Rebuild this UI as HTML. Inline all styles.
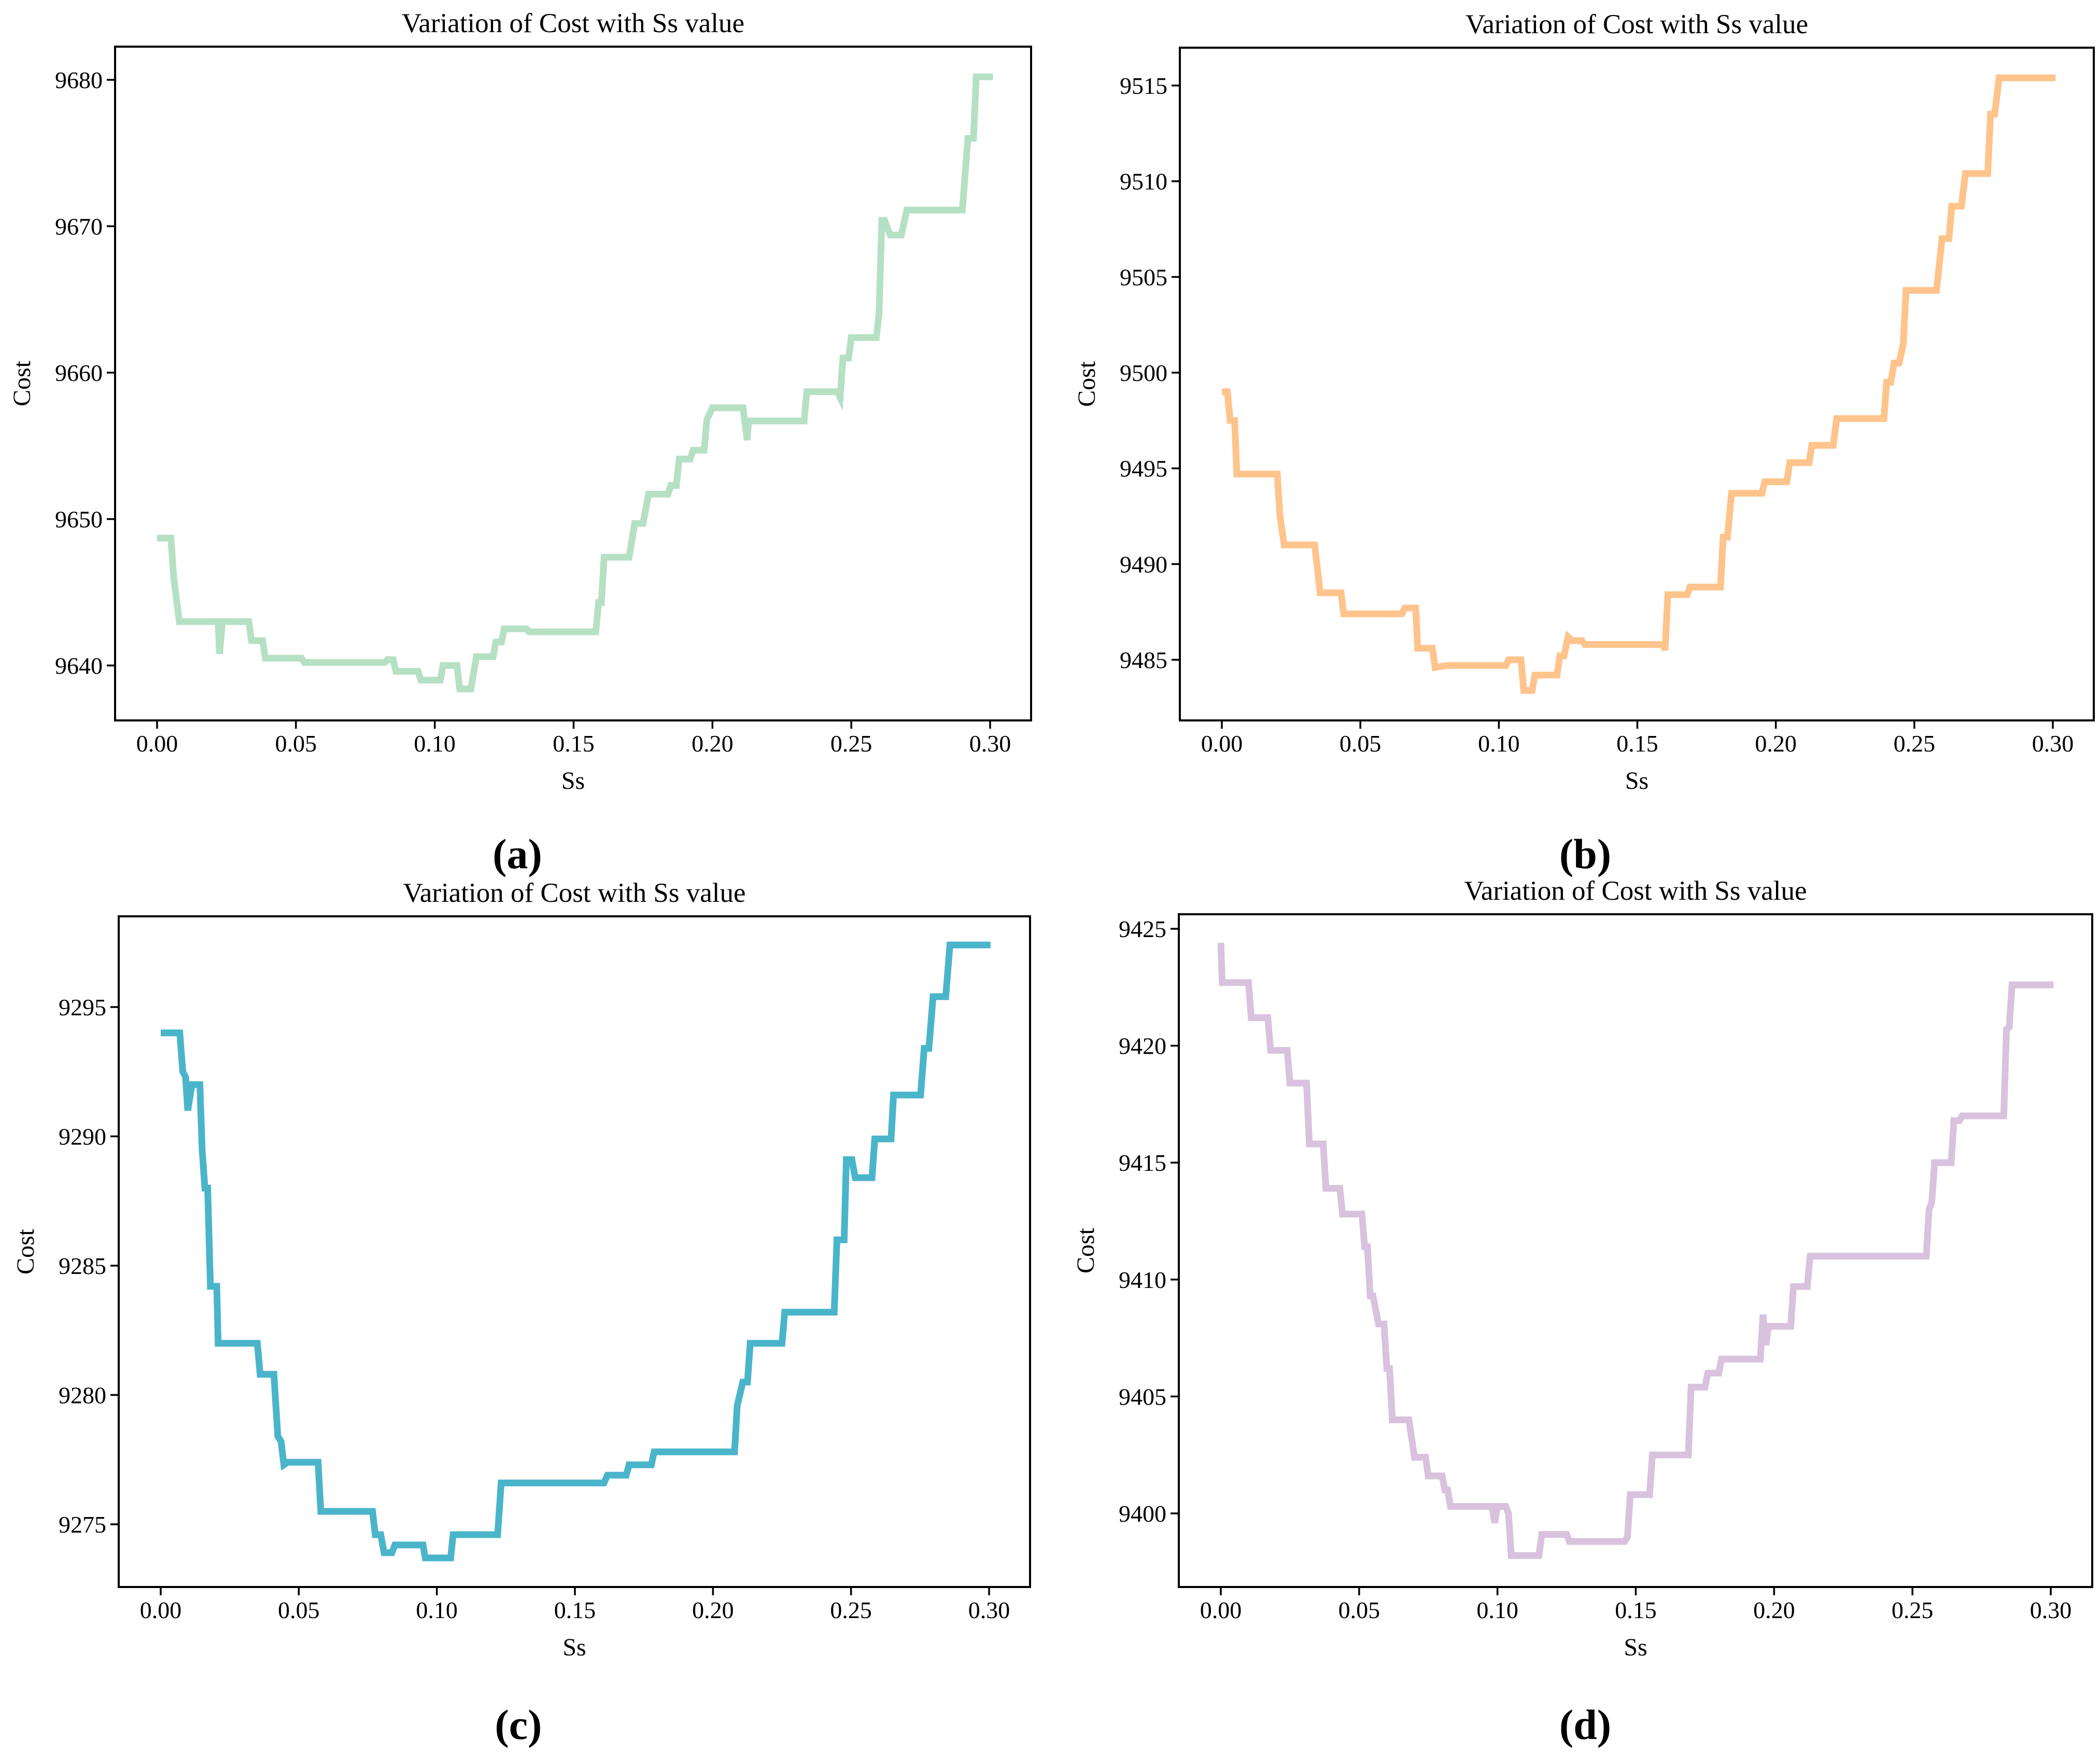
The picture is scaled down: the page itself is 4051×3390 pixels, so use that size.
<!DOCTYPE html>
<html><head><meta charset="utf-8">
<style>
html,body{margin:0;padding:0;background:#fff;}
svg{display:block;}
text{font-family:"Liberation Serif",serif;fill:#000;}
</style></head>
<body>
<svg id="fig" width="4051" height="3390" viewBox="0 0 4051 3390" xmlns="http://www.w3.org/2000/svg"></svg>
<script>
const xTicks = [0, 0.05, 0.10, 0.15, 0.20, 0.25, 0.30];
const xTickLabels = ["0.00","0.05","0.10","0.15","0.20","0.25","0.30"];

const ssA = [0,0.005,0.006,0.008,0.022,0.0225,0.0235,0.024,0.033,0.034,0.038,0.039,0.052,0.053,0.082,0.083,0.085,0.086,0.094,0.095,0.102,0.103,0.108,0.109,0.113,0.115,0.121,0.122,0.124,0.125,0.133,0.134,0.158,0.159,0.160,0.161,0.170,0.172,0.175,0.177,0.184,0.185,0.187,0.188,0.192,0.193,0.197,0.198,0.200,0.211,0.2125,0.213,0.233,0.234,0.245,0.246,0.247,0.249,0.250,0.259,0.260,0.261,0.262,0.264,0.268,0.270,0.290,0.292,0.294,0.295,0.301];
const costA = [9648.7,9648.7,9646,9643,9643,9640.8,9643,9643,9643,9641.7,9641.7,9640.5,9640.5,9640.2,9640.2,9640.4,9640.4,9639.6,9639.6,9639,9639,9640,9640,9638.4,9638.4,9640.6,9640.6,9641.6,9641.6,9642.5,9642.5,9642.3,9642.3,9644.3,9644.3,9647.4,9647.4,9649.7,9649.7,9651.7,9651.7,9652.3,9652.3,9654.1,9654.1,9654.7,9654.7,9656.8,9657.6,9657.6,9655.4,9656.7,9656.7,9658.7,9658.7,9658.3,9661,9661,9662.4,9662.4,9664,9670.4,9670.4,9669.4,9669.4,9671.1,9671.1,9676,9676,9680.2,9680.2];
const yTicksA = [9640,9650,9660,9670,9680];

const ssB = [0,0.002,0.003,0.0046,0.0054,0.020,0.021,0.0225,0.0335,0.0355,0.043,0.044,0.065,0.066,0.070,0.0707,0.076,0.077,0.081,0.1025,0.1035,0.108,0.109,0.112,0.113,0.121,0.122,0.1235,0.125,0.1265,0.130,0.131,0.1595,0.160,0.161,0.168,0.169,0.180,0.181,0.1825,0.184,0.195,0.196,0.204,0.205,0.212,0.213,0.2207,0.222,0.239,0.240,0.2415,0.2427,0.2445,0.246,0.247,0.258,0.260,0.2625,0.2635,0.267,0.2684,0.2765,0.2775,0.279,0.2806,0.301];
const costB = [9499,9499,9497.5,9497.5,9494.7,9494.7,9492.5,9491,9491,9488.5,9488.5,9487.4,9487.4,9487.7,9487.7,9485.6,9485.6,9484.6,9484.7,9484.7,9485,9485,9483.4,9483.4,9484.2,9484.2,9485.2,9485.2,9486.2,9486,9486,9485.8,9485.8,9485.5,9488.4,9488.4,9488.8,9488.8,9491.4,9491.4,9493.7,9493.7,9494.3,9494.3,9495.3,9495.3,9496.2,9496.2,9497.6,9497.6,9499.5,9499.5,9500.5,9500.5,9501.5,9504.3,9504.3,9507,9507,9508.7,9508.7,9510.4,9510.4,9513.5,9513.5,9515.4,9515.4];
const yTicksB = [9485,9490,9495,9500,9505,9510,9515];

const ssC = [0,0.0069,0.008,0.009,0.0098,0.0113,0.0142,0.015,0.016,0.017,0.018,0.0203,0.0208,0.035,0.036,0.041,0.0424,0.0436,0.0446,0.046,0.057,0.058,0.0767,0.0777,0.0797,0.0809,0.0837,0.0848,0.095,0.0958,0.105,0.1059,0.122,0.1233,0.1605,0.1618,0.1686,0.1696,0.1777,0.1787,0.2078,0.2088,0.2108,0.2125,0.2135,0.225,0.226,0.2439,0.2449,0.2475,0.2483,0.2503,0.2515,0.2576,0.2586,0.2645,0.2654,0.2752,0.2765,0.2782,0.2797,0.2843,0.2858,0.3005];
const costC = [9294,9294,9292.5,9292.3,9291,9292,9292,9289.5,9288,9288,9284.2,9284.2,9282,9282,9280.8,9280.8,9278.4,9278.2,9277.3,9277.4,9277.4,9275.5,9275.5,9274.6,9274.6,9273.9,9273.9,9274.2,9274.2,9273.7,9273.7,9274.6,9274.6,9276.6,9276.6,9276.9,9276.9,9277.3,9277.3,9277.8,9277.8,9279.6,9280.5,9280.5,9282,9282,9283.2,9283.2,9286,9286,9289.1,9289.1,9288.4,9288.4,9289.9,9289.9,9291.6,9291.6,9293.4,9293.4,9295.4,9295.4,9297.4,9297.4];
const yTicksC = [9275,9280,9285,9290,9295];

const ssD = [0,0.0005,0.010,0.011,0.017,0.018,0.024,0.025,0.031,0.032,0.037,0.038,0.043,0.044,0.051,0.052,0.053,0.054,0.055,0.057,0.059,0.060,0.061,0.062,0.068,0.069,0.070,0.074,0.075,0.080,0.081,0.082,0.083,0.098,0.099,0.100,0.103,0.104,0.105,0.115,0.116,0.125,0.126,0.146,0.147,0.148,0.155,0.156,0.169,0.170,0.175,0.176,0.180,0.181,0.195,0.196,0.197,0.198,0.206,0.207,0.212,0.213,0.255,0.256,0.257,0.258,0.264,0.265,0.267,0.268,0.283,0.284,0.285,0.286,0.301];
const costD = [9424.4,9422.7,9422.7,9421.2,9421.2,9419.8,9419.8,9418.4,9418.4,9415.8,9415.8,9413.9,9413.9,9412.8,9412.8,9411.4,9411.4,9409.3,9409.3,9408.1,9408.1,9406.2,9406.2,9404,9404,9403.2,9402.4,9402.4,9401.6,9401.6,9401,9401,9400.3,9400.3,9399.6,9400.3,9400.3,9400,9398.2,9398.2,9399.1,9399.1,9398.8,9398.8,9399,9400.8,9400.8,9402.5,9402.5,9405.4,9405.4,9406,9406,9406.6,9406.6,9408.5,9407.2,9408,9408,9409.7,9409.7,9411,9411,9413,9413.3,9415,9415,9416.8,9416.8,9417,9417,9420.7,9420.8,9422.6,9422.6];
const yTicksD = [9400,9405,9410,9415,9420,9425];

const NS = "http://www.w3.org/2000/svg";
const svg = document.getElementById('fig');
function mk(tag, attrs, parent, txt){
  const e = document.createElementNS(NS, tag);
  for (const k in attrs) e.setAttribute(k, attrs[k]);
  if (txt !== undefined) e.textContent = txt;
  (parent||svg).appendChild(e);
  return e;
}

function panel(key, box, xmap, ymap, ss, cost, yTicks, color, letter, labelPos){
  const g = mk('g', {});
  
  
  const X = v => xmap[0] + (v - 0) / 0.3 * (xmap[1] - xmap[0]);
  const Y = v => ymap[1] + (v - ymap[0]) / (ymap[2] - ymap[0]) * (ymap[3] - ymap[1]);
  let d = '';
  for (let i = 0; i < ss.length; i++) d += (i ? 'L' : 'M') + X(ss[i]).toFixed(1) + ',' + Y(cost[i]).toFixed(1);
  const line = mk('path', {d: d, fill: 'none', stroke: color, 'stroke-width': 13, 'stroke-linejoin': 'miter', 'stroke-linecap': 'butt'}, g);
  
  
  const fr = mk('rect', {x: box[0], y: box[1], width: box[2] - box[0], height: box[3] - box[1], fill: 'none', stroke: '#000', 'stroke-width': 4}, g);
  
  
  for (let i = 0; i < xTicks.length; i++) {
    const x = X(xTicks[i]);
    const t = mk('line', {x1: x, x2: x, y1: box[3], y2: box[3] + 16, stroke: '#000', 'stroke-width': 3.5}, g);
    
    
    const lb = mk('text', {x: x, y: box[3] + 60, 'font-size': 46, 'text-anchor': 'middle'}, g, xTickLabels[i]);
    
    
  }
  for (let i = 0; i < yTicks.length; i++) {
    const y = Y(yTicks[i]);
    const t = mk('line', {x1: box[0] - 16, x2: box[0], y1: y, y2: y, stroke: '#000', 'stroke-width': 3.5}, g);
    
    
    const lb = mk('text', {x: box[0] - 24, y: y + 16, 'font-size': 46, 'text-anchor': 'end'}, g, String(yTicks[i]));
    
    
  }
  const cx = (box[0] + box[2]) / 2;
  const ti = mk('text', {x: cx, y: box[1] - 28, 'font-size': 53, 'text-anchor': 'middle'}, g, 'Variation of Cost with Ss value');
  
  
  const xl = mk('text', {x: cx, y: box[3] + 132, 'font-size': 48, 'text-anchor': 'middle'}, g, 'Ss');
  
  
  const ylx = box[0] - 164, yly = (box[1] + box[3]) / 2;
  const yl = mk('text', {x: ylx, y: yly, 'font-size': 48, 'text-anchor': 'middle', transform: 'rotate(-90 ' + ylx + ' ' + yly + ')'}, g, 'Cost');
  
  
  const pl = mk('text', {x: labelPos[0], y: labelPos[1], 'font-size': 82, 'font-weight': 'bold', 'text-anchor': 'middle'}, g, '(' + letter + ')');
  
  
}

panel('a', [222, 90, 1989, 1390], [303, 1910], [9640, 1284, 9680, 154], ssA, costA, yTicksA, '#b6e0c3', 'a', [998, 1675]);
panel('b', [2276, 92, 4039, 1390], [2357, 3960], [9485, 1273, 9515, 165], ssB, costB, yTicksB, '#fec48c', 'b', [3058, 1675]);
panel('c', [229, 1768, 1987, 3062], [310, 1908], [9275, 2941, 9295, 1943], ssC, costC, yTicksC, '#4ab5ca', 'c', [1000, 3355]);
panel('d', [2274, 1764, 4036, 3062], [2355, 3956], [9400, 2920, 9425, 1792], ssD, costD, yTicksD, '#d8c2de', 'd', [3058, 3355]);
</script>
</body></html>
